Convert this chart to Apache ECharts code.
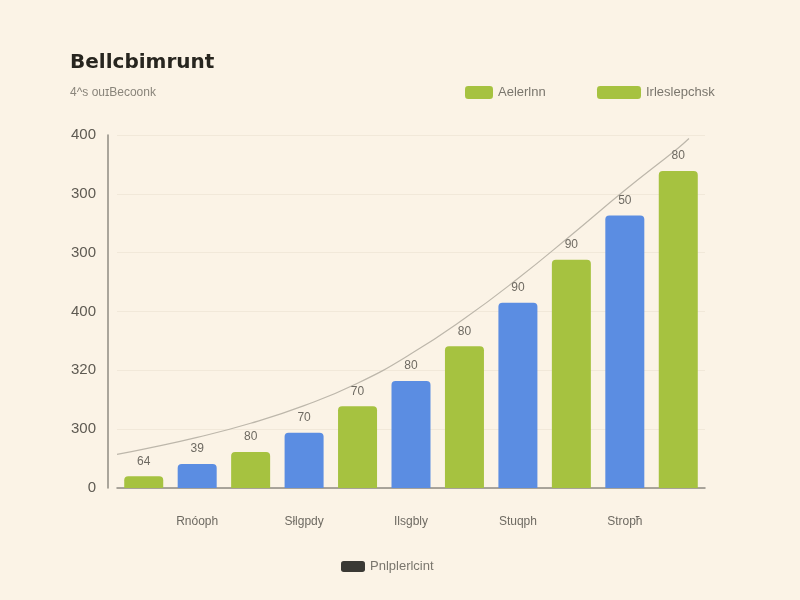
<!DOCTYPE html>
<html>
<head>
<meta charset="utf-8">
<script src="https://cdn.jsdelivr.net/npm/echarts@6/dist/echarts.min.js"></script>
<style>html,body{margin:0;padding:0;background:#fbf3e6;}#c{width:800px;height:600px;}</style>
</head>
<body>
<div id="c"></div>
<script>
var categories = ['Pnóa', 'Rnóoph', 'Słlia', 'Słlgpdy', 'Ilsa', 'Ilsgbly', 'Stua', 'Stuqph', 'Stra', 'Stropħ', 'Stoa'];
var greenValues = [20, '-', 61, '-', 139, '-', 241, '-', 388, '-', 539];
var blueValues = ['-', 41, '-', 94, '-', 182, '-', 315, '-', 463, '-'];
var barLabels = ['64', '39', '80', '70', '70', '80', '80', '90', '90', '50', '80'];
var yTickLabels = ['0', '300', '320', '400', '300', '300', '400'];
var lineX = [-0.5, 0, 1, 2, 3, 4, 5, 6, 7, 8, 9, 10, 10.2];
var lineY = [57, 66, 86, 110, 140, 178, 228, 288, 356, 430, 506, 578, 594];
var seriesNames = ['Aelerlnn', 'Irleslepchsk', 'Pnlplerlcint'];

var GREEN = '#a6c240', BLUE = '#5b8de2';
var chart = echarts.init(document.getElementById('c'));
var labelCfg = {
  show: true, position: 'top', distance: 9, color: '#6e6a62', fontSize: 12,
  fontFamily: 'Liberation Sans',
  formatter: function (p) { return barLabels[p.dataIndex]; }
};
chart.setOption({
  backgroundColor: '#fbf3e6',
  animation: false,
  title: {
    text: 'Bellcbimrunt', subtext: '4^s ouɪBecoonk', left: 65, top: 48,
    textStyle: { fontSize: 20, fontWeight: 'bold', color: '#27251f', fontFamily: 'DejaVu Sans' },
    subtextStyle: { fontSize: 12, color: '#8a857b', fontFamily: 'Liberation Sans' },
    itemGap: 14
  },
  legend: [
    { data: [{ name: seriesNames[0], itemStyle: { color: GREEN } }], left: 460, top: 81,
      itemWidth: 28, itemHeight: 13, icon: 'roundRect', itemGap: 10,
      textStyle: { color: '#7a766d', fontSize: 13, fontFamily: 'Liberation Sans' } },
    { data: [{ name: seriesNames[1], itemStyle: { color: GREEN } }], left: 592, top: 81,
      itemWidth: 44, itemHeight: 13, icon: 'roundRect',
      textStyle: { color: '#7a766d', fontSize: 13, fontFamily: 'Liberation Sans' } },
    { data: [{ name: seriesNames[2], itemStyle: { color: '#3a3934' }, icon: 'roundRect' }], left: 336, top: 555,
      itemWidth: 24, itemHeight: 11,
      textStyle: { color: '#7a766d', fontSize: 13, fontFamily: 'Liberation Sans' } }
  ],
  grid: { left: 117, right: 95, top: 135, bottom: 112, containLabel: false },
  xAxis: [
    { type: 'category', data: categories, boundaryGap: true,
      axisLine: { onZero: false, lineStyle: { color: '#8f8b82', width: 1.5 } },
      axisTick: { show: false },
      axisLabel: { interval: function (i) { return i % 2 === 1; }, margin: 28, color: '#6e6a62', fontSize: 12, fontFamily: 'Liberation Sans' } },
    { type: 'value', min: -0.5, max: 10.5, show: false }
  ],
  yAxis: {
    type: 'value', min: 0, max: 600, interval: 100, offset: 9,
    axisLine: { show: true, onZero: false, lineStyle: { color: '#8f8b82', width: 1.5 } },
    axisTick: { show: false },
    splitLine: { lineStyle: { color: '#f1e8d9', width: 1 } },
    axisLabel: { margin: 12, color: '#5e5a52', fontSize: 15, fontFamily: 'Liberation Sans',
      formatter: function (v) { return yTickLabels[Math.round(v / 100)]; } }
  },
  series: [
    { name: seriesNames[0], type: 'bar', stack: 's', data: greenValues, barWidth: 39,
      itemStyle: { color: GREEN, borderRadius: [4, 4, 0, 0] }, label: labelCfg },
    { name: seriesNames[1], type: 'bar', stack: 's', data: blueValues, barWidth: 39,
      itemStyle: { color: BLUE, borderRadius: [4, 4, 0, 0] }, label: labelCfg },
    { name: seriesNames[2], type: 'line', xAxisIndex: 1, smooth: 0.5, showSymbol: false,
      data: lineX.map(function (x, i) { return [x, lineY[i]]; }),
      lineStyle: { color: '#bdb7ab', width: 1.2 }, itemStyle: { color: '#3a3934' }, z: 1 }
  ]
});
</script>
</body>
</html>
